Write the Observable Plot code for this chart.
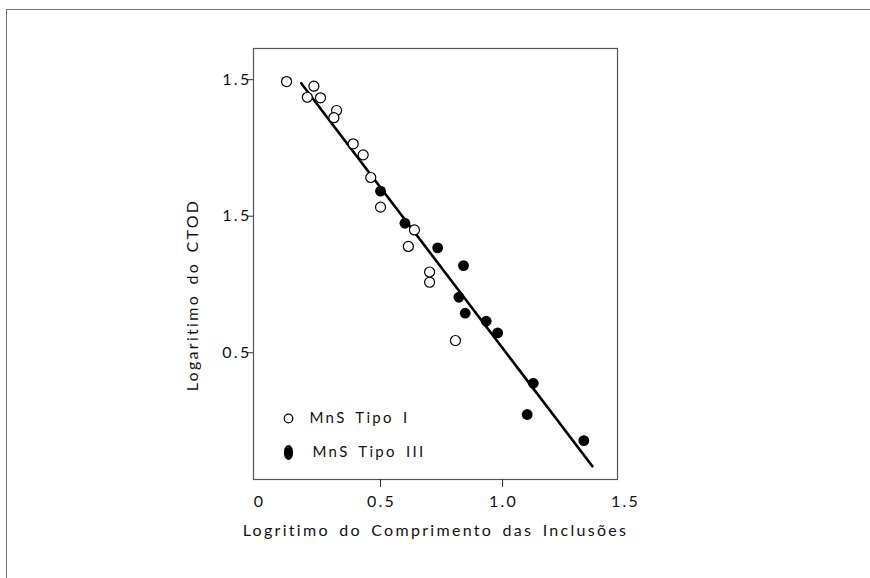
<!DOCTYPE html>
<html>
<head>
<meta charset="utf-8">
<script src="https://cdn.jsdelivr.net/npm/d3@7"></script>
<script src="https://cdn.jsdelivr.net/npm/@observablehq/plot@0.6"></script>
<style>
  html, body { margin: 0; padding: 0; background: #fff; }
  #wrap { position: relative; width: 870px; height: 578px; overflow: hidden; }
  #sheet { position: absolute; left: 6px; top: 9px; right: -2px; bottom: -2px;
           border-top: 1.5px solid #777; border-left: 1.5px solid #777; }
  #chart { position: absolute; left: 0; top: 0; }
  svg text { font-family: "Lato", "DejaVu Sans", sans-serif; font-weight: 400;
             letter-spacing: 2.3px; word-spacing: 3px; }
</style>
</head>
<body>
<div id="wrap"><div id="sheet"></div><div id="chart"></div></div>
<script>
// Log of inclusion length (x) vs log of CTOD (y), two MnS inclusion types
const tipoI_x = [0.115, 0.227, 0.200, 0.254, 0.320, 0.309, 0.388, 0.429, 0.460, 0.500, 0.639, 0.614, 0.701, 0.701, 0.807];
const tipoI_y = [2.523, 2.489, 2.408, 2.404, 2.311, 2.258, 2.067, 1.986, 1.820, 1.603, 1.436, 1.315, 1.128, 1.053, 0.626];

const tipoIII_x = [0.500, 0.600, 0.734, 0.840, 0.821, 0.847, 0.933, 0.980, 1.126, 1.101, 1.333];
const tipoIII_y = [1.720, 1.485, 1.305, 1.175, 0.943, 0.826, 0.767, 0.682, 0.313, 0.084, -0.107];

// Fitted trend line end points
const fitX = [0.175, 1.368];
const fitY = [2.511, -0.295];

// Axis ticks and the labels printed beside them
const xTickMarks = [0.5, 1.0];
const xTickValues = [0, 0.5, 1.0, 1.5];
const xTickLabels = ["0", "0.5", "1.0", "1.5"];
const yTickValues = [2.5, 1.5, 0.5];
const yTickLabels = ["1.5", "1.5", "0.5"];

const legendLabels = ["MnS Tipo I", "MnS Tipo III"];
const xTitle = "Logritimo do Comprimento das Inclusões";
const yTitle = "Logaritimo do CTOD";

const ptsI = tipoI_x.map((x, i) => ({x, y: tipoI_y[i]}));
const ptsIII = tipoIII_x.map((x, i) => ({x, y: tipoIII_y[i]}));
const fit = fitX.map((x, i) => ({x, y: fitY[i]}));

// tall ellipse symbol for the filled legend key
const ellipse = {
  draw(ctx, size) {
    const rx = 4.6, ry = 7.4, k = 0.5523;
    ctx.moveTo(0, -ry);
    ctx.bezierCurveTo(k * rx, -ry, rx, -k * ry, rx, 0);
    ctx.bezierCurveTo(rx, k * ry, k * rx, ry, 0, ry);
    ctx.bezierCurveTo(-k * rx, ry, -rx, k * ry, -rx, 0);
    ctx.bezierCurveTo(-rx, -k * ry, -k * rx, -ry, 0, -ry);
    ctx.closePath();
  }
};

const yLabelOf = new Map(yTickValues.map((v, i) => [v, yTickLabels[i]]));
const xLabelOf = new Map(xTickValues.map((v, i) => [v, xTickLabels[i]]));
const ink = "#111";

const chart = Plot.plot({
  width: 870,
  height: 578,
  marginLeft: 253,
  marginRight: 253,
  marginTop: 48,
  marginBottom: 99,
  style: {background: "transparent", color: ink, fontSize: "16px"},
  x: {domain: [-0.0205, 1.471]},
  y: {domain: [-0.392, 2.765]},
  marks: [
    Plot.frame({stroke: "#555", strokeWidth: 1.2}),
    Plot.axisX({ticks: xTickMarks, tickSize: 8, text: null, label: null, stroke: "#333"}),
    Plot.axisX({ticks: xTickValues, tickSize: 0, tickPadding: 16, tickFormat: d => xLabelOf.get(d),
                label: null, fontSize: 16, dx: 1, fill: ink}),
    Plot.axisY({ticks: yTickValues, tickSize: 6, tickPadding: -4, tickFormat: d => yLabelOf.get(d),
                label: null, fontSize: 16, dy: -5, fill: ink, stroke: "#333"}),
    Plot.text([xTitle], {frameAnchor: "bottom", lineAnchor: "middle", dy: 51, fontSize: 16, fill: ink}),
    Plot.text([yTitle], {frameAnchor: "left", textAnchor: "middle", lineAnchor: "middle",
                         dx: -61, dy: 31, rotate: -90, fontSize: 16, fill: ink}),
    Plot.line(fit, {x: "x", y: "y", stroke: "#000", strokeWidth: 2.6}),
    Plot.dot(ptsI, {x: "x", y: "y", r: 5, stroke: "#000", strokeWidth: 1.2, fill: "#fff"}),
    Plot.dot(ptsIII, {x: "x", y: "y", r: 5.4, fill: "#000", stroke: "none"}),
    // legend keys
    Plot.dot([legendLabels[0]], {frameAnchor: "bottom-left", dx: 35, dy: -61, r: 4.3, stroke: "#000", strokeWidth: 1.2, fill: "#fff"}),
    Plot.dot([legendLabels[1]], {frameAnchor: "bottom-left", dx: 35, dy: -27, symbol: ellipse, fill: "#000"}),
    Plot.text([legendLabels[0]], {frameAnchor: "bottom-left", textAnchor: "start", lineAnchor: "middle",
                                  dx: 56, dy: -61, fontSize: 15, fill: ink}),
    Plot.text([legendLabels[1]], {frameAnchor: "bottom-left", textAnchor: "start", lineAnchor: "middle",
                                  dx: 59, dy: -27, fontSize: 15, fill: ink})
  ]
});

document.getElementById("chart").appendChild(chart);
</script>
</body>
</html>
